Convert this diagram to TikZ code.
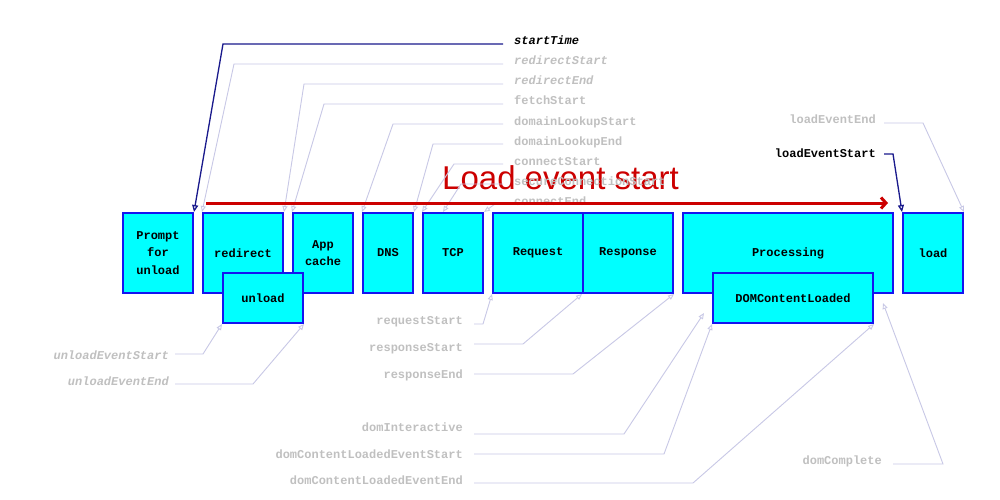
\documentclass[tikz,border=0pt]{standalone}
\usepackage{fontspec}
\newfontfamily\lmono{Liberation Mono}
\newfontfamily\lsans{Liberation Sans}
\usetikzlibrary{arrows.meta}
\definecolor{boxcyan}{RGB}{0,255,255}
\definecolor{boxblue}{RGB}{20,20,240}
\definecolor{connc}{RGB}{200,200,230}
\definecolor{navyc}{RGB}{25,25,140}
\definecolor{lblgray}{RGB}{192,192,192}
\definecolor{loadred}{RGB}{204,0,0}
\begin{document}
\begin{tikzpicture}[x=1pt,y=-1pt,
  box/.style={draw=boxblue, fill=boxcyan, line width=2pt, inner sep=0pt, align=center,
    font=\lmono\bfseries\fontsize{12}{17.5}\selectfont},
  lbl/.style={inner sep=0pt, text=lblgray, font=\lmono\bfseries\fontsize{12}{14}\selectfont},
  ital/.style={font=\lmono\bfseries\itshape\fontsize{12}{14}\selectfont},
  blk/.style={text=black},
  conn/.style={draw=connc, line width=0.9pt, -{Triangle[open, length=6pt, width=5pt]}},
  navyconn/.style={draw=navyc, line width=1.3pt, -{Triangle[open, length=7pt, width=6pt]}},
  redarrow/.style={draw=loadred, line width=3pt, -{Straight Barb[length=5pt, width=11pt]}}
]
\useasboundingbox[fill=white] (0,0) rectangle (1000,500);

% boxes
\node[box, minimum width=70pt, minimum height=80pt] (prompt) at (158,253) {Prompt\\for\\unload};
\node[box, minimum width=80pt, minimum height=80pt] (redirect) at (243,253) {redirect};
\node[box, minimum width=60pt, minimum height=80pt] (appcache) at (323,253) {App\\cache};
\node[box, minimum width=50pt, minimum height=80pt] (dns) at (388,253) {DNS};
\node[box, minimum width=60pt, minimum height=80pt] (tcp) at (453,253) {TCP};
\node[box, minimum width=90pt, minimum height=80pt] (request) at (538,253) {Request};
\node[box, minimum width=90pt, minimum height=80pt] (response) at (628,253) {Response};
\node[box, minimum width=210pt, minimum height=80pt] (processing) at (788,253) {Processing};
\node[box, minimum width=60pt, minimum height=80pt] (load) at (933,253) {load};
\node[box, minimum width=80pt, minimum height=50pt] (unload) at (263,298) {unload};
\node[box, minimum width=160pt, minimum height=50pt] (dcl) at (793,298) {DOMContentLoaded};

% big red title
\node[anchor=base west, inner sep=0pt, text=loadred, font=\lsans\fontsize{33}{40}\selectfont] (title) at (442,189) {Load event start};

% top labels
\node[lbl, ital, blk, anchor=base west] (lStartTime) at (514,45) {startTime};
\node[lbl, ital, anchor=base west] (lRedirectStart) at (514,65) {redirectStart};
\node[lbl, ital, anchor=base west] (lRedirectEnd) at (514,85) {redirectEnd};
\node[lbl, anchor=base west] (lFetchStart) at (514,105) {fetchStart};
\node[lbl, anchor=base west] (lDLS) at (514,125) {domainLookupStart};
\node[lbl, anchor=base west] (lDLE) at (514,145) {domainLookupEnd};
\node[lbl, anchor=base west] (lCS) at (514,165) {connectStart};
\node[lbl, anchor=base west] (lSCS) at (514,185) {secureConnectionStart};
\node[lbl, anchor=base west] (lCE) at (514,205) {connectEnd};

\draw[navyconn] (lStartTime.base west) ++(-11,-1) -- ++(-280,0) -- (prompt.north east);
\draw[conn] (lRedirectStart.base west) ++(-11,-1) -- ++(-269,0) -- (redirect.north west);
\draw[conn] (lRedirectEnd.base west) ++(-11,-1) -- ++(-199,0) -- (redirect.north east);
\draw[conn] (lFetchStart.base west) ++(-11,-1) -- ++(-179,0) -- (appcache.north west);
\draw[conn] (lDLS.base west) ++(-11,-1) -- ++(-110,0) -- (dns.north west);
\draw[conn] (lDLE.base west) ++(-11,-1) -- ++(-70,0) -- (dns.north east);
\draw[conn] (lCS.base west) ++(-11,-1) -- ++(-49,0) -- (tcp.north west);
\draw[conn] (lSCS.base west) ++(-11,-1) -- ++(-42,0) -- ([xshift=-10pt]tcp.north);
\draw[conn] (lCE.base west) ++(-11,-1) -- ++(-8,0) -- (tcp.north east);

% right labels
\node[lbl, anchor=base east] (lLEE) at (876,124) {loadEventEnd};
\node[lbl, blk, anchor=base east] (lLES) at (876,157) {loadEventStart};
\draw[conn] (lLEE.base east) ++(8,-1) -- ++(39,0) -- (load.north east);
\draw[navyconn] (lLES.base east) ++(8,-3) -- ++(9,0) -- (load.north west);

% bottom left labels
\node[lbl, ital, anchor=base east] (lUES) at (169,359) {unloadEventStart};
\node[lbl, ital, anchor=base east] (lUEE) at (169,385) {unloadEventEnd};
\draw[conn] (lUES.base east) ++(6,-5) -- ++(28,0) -- (unload.south west);
\draw[conn] (lUEE.base east) ++(6,-1) -- ++(78,0) -- (unload.south east);

% bottom middle labels
\coordinate (domi) at (704,313);
\coordinate (domc) at (883,303);
\node[lbl, anchor=base east] (lReqS) at (463,324) {requestStart};
\node[lbl, anchor=base east] (lResS) at (463,351) {responseStart};
\node[lbl, anchor=base east] (lResE) at (463,378) {responseEnd};
\node[lbl, anchor=base east] (lDI) at (463,431) {domInteractive};
\node[lbl, anchor=base east] (lDCLS) at (463,458) {domContentLoadedEventStart};
\node[lbl, anchor=base east] (lDCLE) at (463,484) {domContentLoadedEventEnd};
\node[lbl, anchor=base east] (lDC) at (882,464) {domComplete};

\draw[conn] (lReqS.base east) ++(11,0) -- ++(9,0) -- (request.south west);
\draw[conn] (lResS.base east) ++(11,-7) -- ++(49,0) -- (response.south west);
\draw[conn] (lResE.base east) ++(11,-4) -- ++(99,0) -- (response.south east);
\draw[conn] (lDI.base east) ++(11,3) -- ++(150,0) -- (domi);
\draw[conn] (lDCLS.base east) ++(11,-4) -- ++(190,0) -- (dcl.south west);
\draw[conn] (lDCLE.base east) ++(11,-1) -- ++(219,0) -- (dcl.south east);
\draw[conn] (lDC.base east) ++(11,0) -- ++(50,0) -- (domc);

% red arrow
\coordinate (redS) at (206,203);
\coordinate (redE) at (888,203);
\draw[redarrow] (redS) -- (redE);
\end{tikzpicture}
\end{document}
